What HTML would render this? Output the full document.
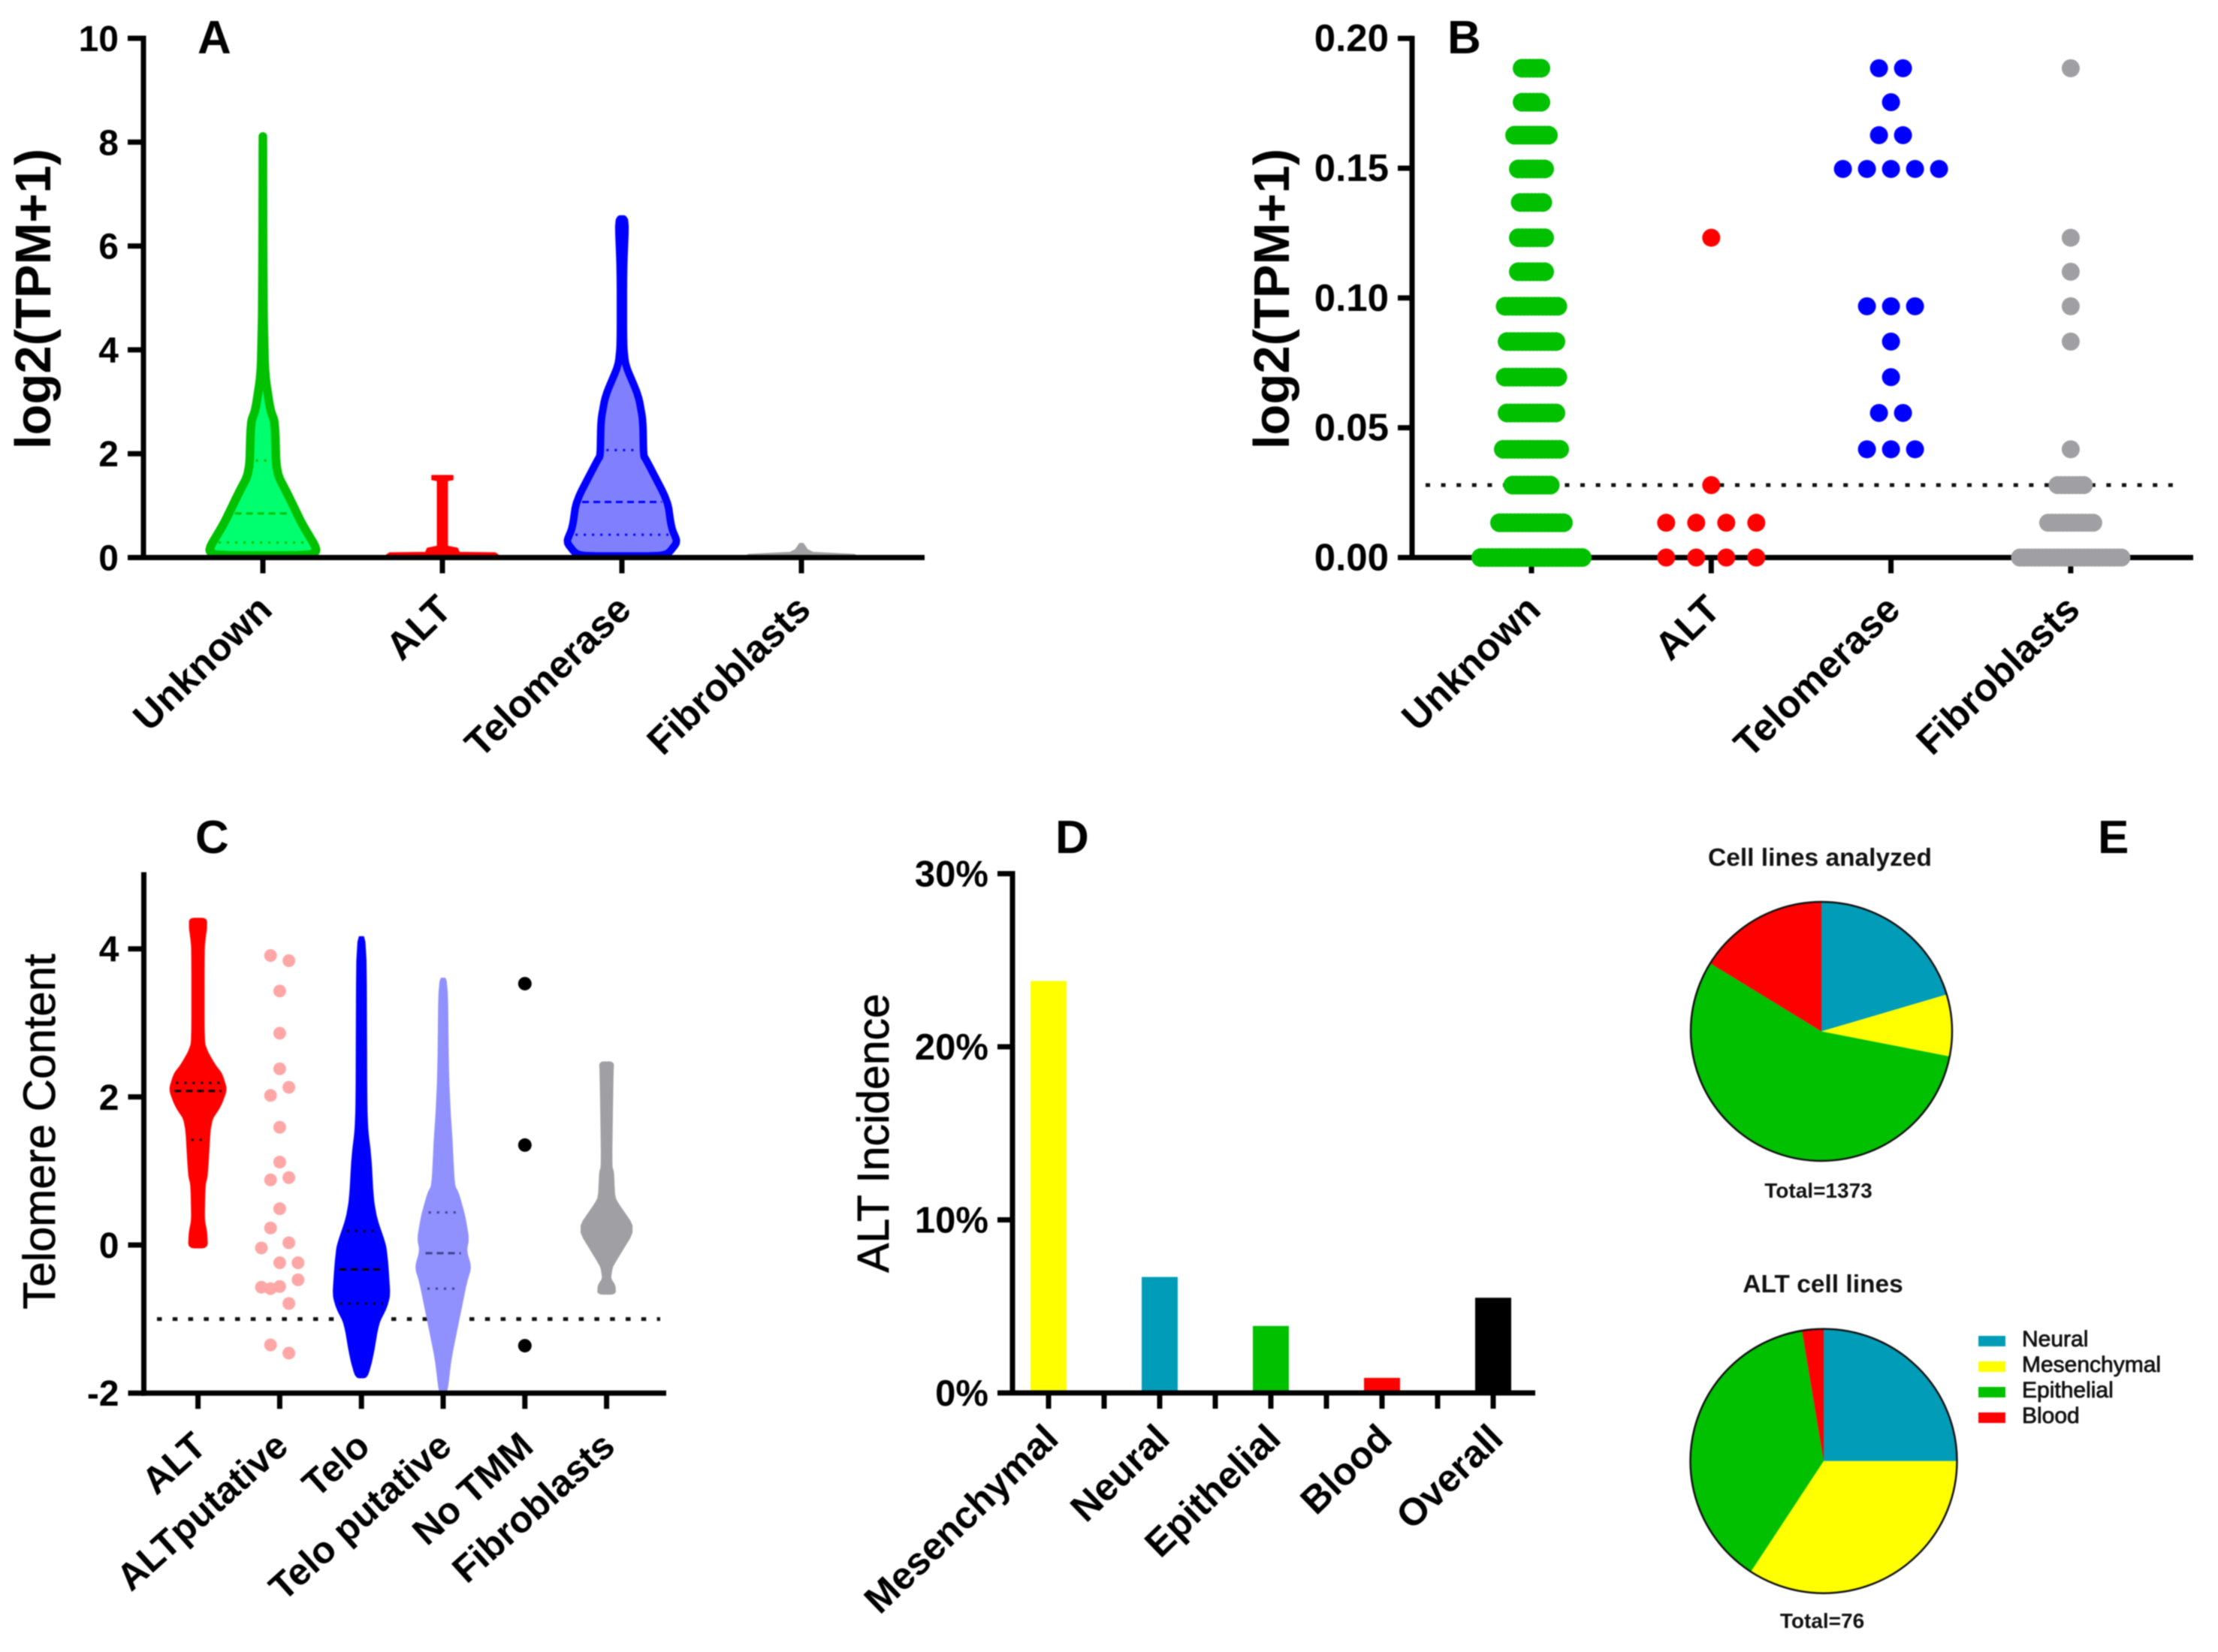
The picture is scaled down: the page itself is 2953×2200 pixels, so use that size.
<!DOCTYPE html>
<html lang="en">
<head>
<meta charset="utf-8">
<title>Telomere maintenance figure panels A to E</title>
<style>
  html, body { margin: 0; padding: 0; background: #fff; }
  #figure { display: block; filter: blur(0.7px); font-family: "Liberation Sans", sans-serif; }
  .letter { font-size: 62px; font-weight: 700; }
  .ytitle-bold { font-size: 67px; font-weight: 700; }
  .ytitle { font-size: 60px; font-weight: 400; stroke: #000; stroke-width: .7px; }
  .ytick { font-size: 48px; font-weight: 700; text-anchor: end; }
  .xcat { font-size: 52px; font-weight: 700; text-anchor: end; }
  .pie-title { font-size: 33.5px; font-weight: 700; text-anchor: middle; fill: #111; }
  .pie-total { font-size: 28px; font-weight: 700; text-anchor: middle; fill: #111; }
  .legend-text { font-size: 30px; font-weight: 400; stroke: #111; stroke-width: .8px; fill: #111; }
</style>
</head>
<body>
<svg id="figure" xmlns="http://www.w3.org/2000/svg" width="2953" height="2200" viewBox="0 0 2953 2200">
  <rect x="0" y="0" width="2953" height="2200" fill="#ffffff"/>

  <g id="panel-a">
    <text class="letter" x="263" y="71">A</text>
    <text class="ytitle-bold" text-anchor="middle" transform="translate(67,398) rotate(-90)">log2(TPM+1)</text>
  </g>
  <g id="panel-b">
    <text class="letter" x="1927" y="71">B</text>
    <text class="ytitle-bold" text-anchor="middle" transform="translate(1716,398) rotate(-90)">log2(TPM+1)</text>
  </g>
  <g id="panel-c">
    <text class="letter" x="260" y="1136">C</text>
    <text class="ytitle" text-anchor="middle" transform="translate(73,1507) rotate(-90)">Telomere Content</text>
  </g>
  <g id="panel-d">
    <text class="letter" x="1405" y="1136">D</text>
    <text class="ytitle" style="font-size:59px" text-anchor="middle" transform="translate(1183,1509) rotate(-90)">ALT Incidence</text>
  </g>
  <g id="panel-e">
    <text class="letter" x="2793" y="1136">E</text>
    <text class="pie-title" x="2423" y="1153">Cell lines analyzed</text>
    <text class="pie-total" x="2421" y="1595">Total=1373</text>
    <text class="pie-title" x="2427" y="1721">ALT cell lines</text>
    <text class="pie-total" x="2426" y="2168">Total=76</text>
  </g>
</svg>

<script>
/* ---------- Panel A data ---------- */
const aCategories = ['Unknown', 'ALT', 'Telomerase', 'Fibroblasts'];
const aTicks = [0, 2, 4, 6, 8, 10];
const aUnknownLevels = [0.04, 0.15, 0.66, 1.18, 1.64, 2.61, 2.84, 3.52, 4.55, 5.7, 8.11];
const aUnknownDensity = [0.8, 0.909, 0.646, 0.43, 0.225, 0.2, 0.125, 0.034, 0.012, 0.006, 0];
const aAltLevels = [0, 0.09, 0.1, 0.18, 0.22, 1.48, 1.5, 1.58];
const aAltDensity = [0.99, 0.88, 0.28, 0.25, 0.084, 0.084, 0.175, 0.175];
const aTeloLevels = [0.03, 0.08, 0.30, 0.57, 1.09, 1.87, 1.96, 2.64, 3.12, 3.70, 4.09, 5.53, 6.52];
const aTeloDensity = [0.625, 0.775, 0.925, 0.825, 0.76, 0.41, 0.36, 0.35, 0.275, 0.06, 0.025, 0.025, 0.06];
const aFibroLevels = [0, 0.06, 0.1, 0.15, 0.27];
const aFibroDensity = [0.99, 0.88, 0.19, 0.1, 0.03];
const aUnknownQuartiles = [0.29, 0.85, 1.87];
const aTeloQuartiles = [0.44, 1.07, 2.07];

/* ---------- Panel B data ---------- */
const bCategories = ['Unknown', 'ALT', 'Telomerase', 'Fibroblasts'];
const bTicks = [0, 0.05, 0.10, 0.15, 0.20];
const bLevels = [0, 0.0134, 0.0279, 0.0417, 0.0557, 0.0695, 0.0832, 0.0968, 0.1101, 0.1232, 0.1368, 0.1497, 0.1627, 0.1754, 0.1885];
const bUnknownCounts = [28, 18, 11, 16, 14, 15, 14, 15, 8, 8, 7, 8, 10, 6, 6];
const bAltCounts = [4, 4, 1, 0, 0, 0, 0, 0, 0, 1, 0, 0, 0, 0, 0];
const bTeloCounts = [0, 0, 0, 3, 2, 1, 1, 3, 0, 0, 0, 5, 2, 1, 2];
const bFibroCounts = [28, 13, 8, 1, 0, 0, 1, 1, 1, 1, 0, 0, 0, 0, 1];
const bThreshold = 0.0279;

/* ---------- Panel C data ---------- */
const cCategories = ['ALT', 'ALTputative', 'Telo', 'Telo putative', 'No TMM', 'Fibroblasts'];
const cTicks = [-2, 0, 2, 4];
const cAltLevels = [-0.035, 0.17, 0.34, 0.81, 0.94, 1.67, 1.88, 2.10, 2.31, 2.43, 2.61, 2.74, 4.01, 4.19, 4.27, 4.41];
const cAltDensity = [0.305, 0.285, 0.2, 0.225, 0.305, 0.41, 0.75, 0.95, 0.79, 0.56, 0.305, 0.195, 0.195, 0.245, 0.275, 0.275];
const cAltQuartiles = [1.42, 2.08, 2.19];
const cAltPutativeValues = [3.91, 3.84, 3.43, 2.86, 2.38, 2.13, 2.02, 1.59, 1.12, 0.91, 0.88, 0.49, 0.23, 0.03, -0.04, -0.24, -0.24, -0.47, -0.56, -0.57, -0.59, -0.79, -1.35, -1.46];
const cAltPutativeSlots = [-1, 1, 0, 0, 0, 1, -1, 0, 0, 1, -1, 0, -1, 1, -2, 0, 2, 2, 0, -2, -1, 1, -1, 1];
const cTeloLevels = [-1.79, -1.53, -1.06, -0.85, -0.68, -0.25, 0, 0.34, 0.6, 1.2, 1.54, 1.88, 4.16];
const cTeloDensity = [0.18, 0.36, 0.56, 0.82, 0.94, 0.87, 0.8, 0.51, 0.39, 0.305, 0.205, 0.17, 0.15];
const cTeloQuartiles = [-0.79, -0.33, 0.19];
const cTeloPutLevels = [-2.0, -1.53, -1.02, -0.51, -0.30, -0.08, 0.09, 0.39, 0.69, 0.81, 1.45, 1.79, 2.31, 3.60];
const cTeloPutDensity = [0.12, 0.255, 0.51, 0.765, 0.92, 0.765, 0.84, 0.715, 0.51, 0.36, 0.285, 0.225, 0.17, 0.13];
const cTeloPutQuartiles = [-0.59, -0.11, 0.44];
const cNoTmmValues = [3.53, 1.35, -1.36];
const cFibroLevels = [-0.66, -0.55, -0.45, -0.30, -0.21, 0.22, 0.6, 0.69, 0.98, 1.07, 2.31, 2.47];
const cFibroDensity = [0.285, 0.275, 0.12, 0.18, 0.305, 0.95, 0.305, 0.255, 0.225, 0.16, 0.205, 0.225];
const cThreshold = -1;

/* ---------- Panel D data ---------- */
const dCategories = ['Mesenchymal', 'Neural', 'Epithelial', 'Blood', 'Overall'];
const dValues = [23.8, 6.7, 3.87, 0.87, 5.5];
const dColors = ['#ffff00', '#009cb8', '#00c000', '#ff0000', '#000000'];
const dTicks = [0, 10, 20, 30];

/* ---------- Panel E data ---------- */
const pieCategories = ['Neural', 'Mesenchymal', 'Epithelial', 'Blood'];
const pieColors = ['#009cb8', '#ffff00', '#00c000', '#ff0000'];
const pieAnalyzedShares = [20.4, 7.7, 55.7, 16.2];
const pieAltShares = [25, 34.2, 38.2, 2.6];

/* ---------- Axis functions ---------- */
const yA = v => 742.5 - v * 69.15;
const xA = i => 350 + 239 * i;
const yB = v => 742.5 - v * 3457;
const xB = i => 2039 + 239.3 * i;
const yC = v => 1658 - v * 98.6;
const xC = i => 263.6 + 108.8 * i;
const yD = v => 1855 - v * 23.05;
const xD = i => 1396 + 148 * i;

/* ---------- Helpers ---------- */
const NS = 'http://www.w3.org/2000/svg';
function node(tag, attrs, parent) {
  const e = document.createElementNS(NS, tag);
  for (const k in attrs) e.setAttribute(k, attrs[k]);
  parent.appendChild(e);
  return e;
}
function named(e, name) {
  
  
  return e;
}
function slug(s) { return s.toLowerCase().replace(/[^a-z0-9]+/g, '-'); }

function drawAxes(g, cfg) {
  const yAxis = node('line', { x1: cfg.x0, x2: cfg.x0, y1: cfg.scaleY(cfg.top) - 3.5, y2: cfg.scaleY(cfg.bottom) + 3.5, stroke: '#000', 'stroke-width': 7 }, g);
  named(yAxis, 'y-axis');
  const xAxis = node('line', { x1: cfg.x0 - 3, x2: cfg.xEnd, y1: cfg.scaleY(cfg.bottom), y2: cfg.scaleY(cfg.bottom), stroke: '#000', 'stroke-width': 7 }, g);
  named(xAxis, 'x-axis');
  cfg.ticks.forEach(t => {
    const y = cfg.scaleY(t);
    const tick = node('line', { x1: cfg.x0 - cfg.tickLen, x2: cfg.x0, y1: y, y2: y, stroke: '#000', 'stroke-width': 7 }, g);
    named(tick, 'y-tick');
    const lab = node('text', { class: 'ytick', x: cfg.x0 - cfg.tickLen - 12, y: y + 17, style: 'font-size:' + cfg.tickFont + 'px' }, g);
    lab.textContent = cfg.fmt(t);
    named(lab, 'y-tick-label');
  });
  cfg.categories.forEach((c, i) => {
    const x = cfg.scaleX(i);
    const tick = node('line', { x1: x, x2: x, y1: cfg.scaleY(cfg.bottom), y2: cfg.scaleY(cfg.bottom) + 21, stroke: '#000', 'stroke-width': 7 }, g);
    named(tick, 'x-tick');
    const lab = node('text', { class: 'xcat', style: 'font-size:' + cfg.labelFont + 'px', transform: `translate(${x + cfg.labelDx},${cfg.labelY}) rotate(${cfg.angle})` }, g);
    lab.textContent = c;
    named(lab, 'x-label-' + slug(c));
  });
}

function widthAt(levels, density, v) {
  for (let i = 0; i < levels.length - 1; i++) {
    if (v >= levels[i] && v <= levels[i + 1]) {
      const t = (v - levels[i]) / (levels[i + 1] - levels[i]);
      return density[i] + t * (density[i + 1] - density[i]);
    }
  }
  return 0;
}

/* corner-cutting so the violin outline reads as a smoothed density curve */
function smoothOutline(pts, rounds, cut) {
  let cur = pts;
  for (let r = 0; r < rounds; r++) {
    const next = [];
    for (let i = 0; i < cur.length; i++) {
      const a = cur[i], b = cur[(i + 1) % cur.length];
      next.push([a[0] + (b[0] - a[0]) * cut, a[1] + (b[1] - a[1]) * cut]);
      next.push([b[0] - (b[0] - a[0]) * cut, b[1] - (b[1] - a[1]) * cut]);
    }
    cur = next;
  }
  return cur;
}

function drawViolin(g, name, cx, scaleY, levels, density, maxW, fill, stroke, strokeW, smooth) {
  const right = levels.map((v, i) => [cx + density[i] * maxW, scaleY(v)]);
  const left = levels.map((v, i) => [cx - density[i] * maxW, scaleY(v)]).reverse();
  let pts = right.concat(left);
  if (smooth) pts = smoothOutline(pts, 2, 0.17);
  const poly = node('polygon', {
    points: pts.map(p => p[0].toFixed(1) + ',' + p[1].toFixed(1)).join(' '),
    fill: fill,
    stroke: stroke || fill,
    'stroke-width': strokeW || 2,
    'stroke-linejoin': 'round'
  }, g);
  named(poly, name);
}

function drawQuartiles(g, name, cx, scaleY, levels, density, maxW, quartiles, color, inset) {
  quartiles.forEach((q, i) => {
    const hw = Math.max(widthAt(levels, density, q) * maxW - inset, 5);
    const line = node('line', {
      x1: cx - hw, x2: cx + hw, y1: scaleY(q), y2: scaleY(q),
      stroke: color, 'stroke-width': 3,
      'stroke-dasharray': i === 1 ? '9 6' : '3 8'
    }, g);
    named(line, name + (i === 1 ? '-median' : '-quartile'));
  });
}

function drawSwarmRows(g, name, cx, counts, step, r, color) {
  counts.forEach((n, row) => {
    for (let k = 0; k < n; k++) {
      const c = node('circle', { cx: cx + (k - (n - 1) / 2) * step, cy: yB(bLevels[row]), r: r, fill: color }, g);
      named(c, name + '-dot');
    }
  });
}

function drawPie(g, name, cx, cy, rx, ry, shares) {
  const total = shares.reduce((a, b) => a + b, 0);
  let acc = 0;
  shares.forEach((s, i) => {
    const a0 = acc / total * 2 * Math.PI;
    acc += s;
    const a1 = acc / total * 2 * Math.PI;
    const p0 = [cx + rx * Math.sin(a0), cy - ry * Math.cos(a0)];
    const p1 = [cx + rx * Math.sin(a1), cy - ry * Math.cos(a1)];
    const large = a1 - a0 > Math.PI ? 1 : 0;
    const slice = node('path', {
      d: `M${cx},${cy}L${p0[0].toFixed(2)},${p0[1].toFixed(2)}A${rx},${ry} 0 ${large} 1 ${p1[0].toFixed(2)},${p1[1].toFixed(2)}Z`,
      fill: pieColors[i]
    }, g);
    named(slice, name + '-slice-' + slug(pieCategories[i]));
  });
  const outline = node('ellipse', { cx: cx, cy: cy, rx: rx, ry: ry, fill: 'none', stroke: '#111', 'stroke-width': 2.5 }, g);
  named(outline, name + '-outline');
}

/* ---------- Panel A ---------- */
const gA = document.getElementById('panel-a');
drawViolin(gA, 'violin-unknown', xA(0), yA, aUnknownLevels, aUnknownDensity, 80, '#00ff6e', '#00c000', 11.5, true);
drawQuartiles(gA, 'violin-unknown', xA(0), yA, aUnknownLevels, aUnknownDensity, 80, aUnknownQuartiles, '#00c000', 8);
drawViolin(gA, 'violin-alt', xA(1), yA, aAltLevels, aAltDensity, 80, '#ff0000', '#ff0000', 1.5, false);
drawViolin(gA, 'violin-telomerase', xA(2), yA, aTeloLevels, aTeloDensity, 80, '#8080ff', '#0000ff', 10, true);
drawQuartiles(gA, 'violin-telomerase', xA(2), yA, aTeloLevels, aTeloDensity, 80, aTeloQuartiles, '#0000ff', 8);
drawViolin(gA, 'violin-fibroblasts', xA(3), yA, aFibroLevels, aFibroDensity, 80, '#a0a0a4', '#a0a0a4', 1.5, false);
drawAxes(gA, { x0: 191, xEnd: 1231, scaleY: yA, scaleX: xA, top: 10, bottom: 0, ticks: aTicks, tickLen: 21, tickFont: 48, fmt: t => String(t), categories: aCategories, labelFont: 51.5, labelDx: 15, labelY: 815, angle: -44 });

/* ---------- Panel B ---------- */
const gB = document.getElementById('panel-b');
const bLine = node('line', { x1: 1898, x2: 2902, y1: yB(bThreshold), y2: yB(bThreshold), stroke: '#111', 'stroke-width': 5, 'stroke-dasharray': '6 14.6' }, gB);
named(bLine, 'threshold-line-b');
drawAxes(gB, { x0: 1880, xEnd: 2920, scaleY: yB, scaleX: xB, top: 0.2, bottom: 0, ticks: bTicks, tickLen: 19, tickFont: 51, fmt: t => t.toFixed(2), categories: bCategories, labelFont: 51.5, labelDx: 15, labelY: 815, angle: -44 });
drawSwarmRows(gB, 'unknown', xB(0), bUnknownCounts, 5, 12.5, '#00c000');
drawSwarmRows(gB, 'alt', xB(1), bAltCounts, 40, 12, '#ff0000');
drawSwarmRows(gB, 'telomerase', xB(2), bTeloCounts, 32, 12, '#0000ff');
drawSwarmRows(gB, 'fibroblasts', xB(3), bFibroCounts, 5, 12, '#a0a0a4');

/* ---------- Panel C ---------- */
const gC = document.getElementById('panel-c');
const cLine = node('line', { x1: 209, x2: 879, y1: yC(cThreshold), y2: yC(cThreshold), stroke: '#111', 'stroke-width': 5, 'stroke-dasharray': '6.5 14.3' }, gC);
named(cLine, 'threshold-line-c');
drawViolin(gC, 'violin-alt', xC(0), yC, cAltLevels, cAltDensity, 40, '#ff0000', null, 2, true);
drawQuartiles(gC, 'violin-alt', xC(0), yC, cAltLevels, cAltDensity, 40, cAltQuartiles, '#000', 6);
cAltPutativeValues.forEach((v, i) => {
  const c = node('circle', { cx: xC(1) + cAltPutativeSlots[i] * 12.2, cy: yC(v), r: 8.5, fill: '#ffa6a6' }, gC);
  named(c, 'alt-putative-dot');
});
drawViolin(gC, 'violin-telo', xC(2), yC, cTeloLevels, cTeloDensity, 40, '#0000ff', null, 2, true);
drawQuartiles(gC, 'violin-telo', xC(2), yC, cTeloLevels, cTeloDensity, 40, cTeloQuartiles, '#000', 6);
drawViolin(gC, 'violin-telo-putative', xC(3), yC, cTeloPutLevels, cTeloPutDensity, 40, '#9090ff', null, 2, true);
drawQuartiles(gC, 'violin-telo-putative', xC(3), yC, cTeloPutLevels, cTeloPutDensity, 40, cTeloPutQuartiles, '#40408c', 8);
cNoTmmValues.forEach(v => {
  const c = node('circle', { cx: xC(4), cy: yC(v), r: 9, fill: '#000' }, gC);
  named(c, 'no-tmm-dot');
});
drawViolin(gC, 'violin-fibroblasts', xC(5), yC, cFibroLevels, cFibroDensity, 40, '#a0a0a4', null, 2, true);
drawAxes(gC, { x0: 191.5, xEnd: 887, scaleY: yC, scaleX: xC, top: 5, bottom: -2, ticks: cTicks, tickLen: 21, tickFont: 48, fmt: t => String(t), categories: cCategories, labelFont: 50, labelDx: 14, labelY: 1930, angle: -42 });

/* ---------- Panel D ---------- */
const gD = document.getElementById('panel-d');
dValues.forEach((v, i) => {
  const bar = node('rect', { x: xD(i) - 24, y: yD(v), width: 48, height: yD(0) - yD(v), fill: dColors[i] }, gD);
  named(bar, 'bar-' + slug(dCategories[i]));
});
for (let i = 0; i < dCategories.length - 1; i++) {
  const minor = node('line', { x1: xD(i + 0.5), x2: xD(i + 0.5), y1: yD(0), y2: yD(0) + 21, stroke: '#000', 'stroke-width': 7 }, gD);
  named(minor, 'x-minor-tick');
}
drawAxes(gD, { x0: 1348, xEnd: 2044, scaleY: yD, scaleX: xD, top: 30, bottom: 0, ticks: dTicks, tickLen: 20, tickFont: 49, fmt: t => t + '%', categories: dCategories, labelFont: 51, labelDx: 16, labelY: 1919, angle: -44 });

/* ---------- Panel E ---------- */
const gE = document.getElementById('panel-e');
drawPie(gE, 'pie-analyzed', 2425, 1373.5, 174, 172.5, pieAnalyzedShares);
drawPie(gE, 'pie-alt', 2428, 1945.7, 177.5, 176, pieAltShares);
pieCategories.forEach((c, i) => {
  const sw = node('rect', { x: 2634, y: 1779 + i * 34, width: 36, height: 14, fill: pieColors[i] }, gE);
  named(sw, 'legend-swatch-' + slug(c));
  const t = node('text', { class: 'legend-text', x: 2692, y: 1793 + i * 34 }, gE);
  t.textContent = c;
  named(t, 'legend-label-' + slug(c));
});
</script>
</body>
</html>
